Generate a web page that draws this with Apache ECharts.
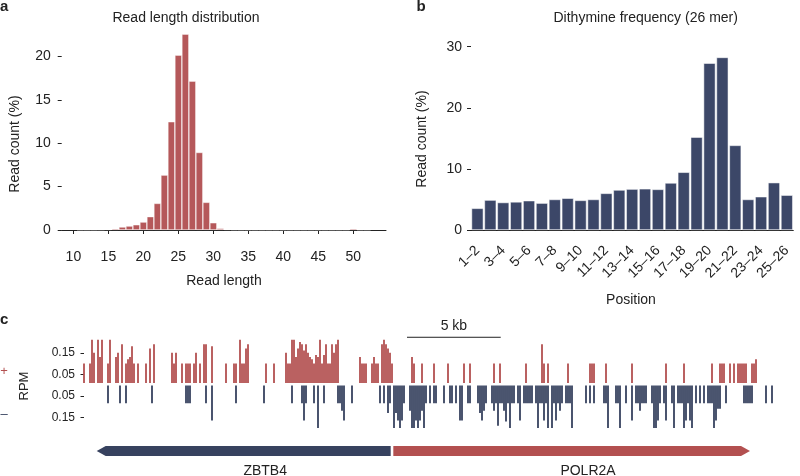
<!DOCTYPE html>
<html><head><meta charset="utf-8">
<script src="https://cdn.jsdelivr.net/npm/echarts@6/dist/echarts.min.js"></script>
<style>html,body{margin:0;padding:0;background:#fff}#c{width:800px;height:476px}</style>
</head><body><div id="c"></div>
<script>
// ---------- Panel a: read length distribution ----------
const readLength = [11,12,13,14,15,16,17,18,19,20,21,22,23,24,25,26,27,28,29,30,31,32,33,34,35,36,37,38,39,40,41,42,43,44,45,46,47,48,49,50,51,52];
const readPct = [0.03,0.03,0.03,0.04,0.08,0.15,0.35,0.46,0.61,0.92,
                 1.54,3.07,6.33,12.48,20.15,22.57,17.16,8.94,3.19,0.84,
                 0.19,0.08,
                 0.04,0.03,0.03,0.03,0.03,0.03,0.03,0.03,0.03,0.03,0.03,0.03,0.03,0.03,0.03,0.03,0.03,
                 0.15,0.03,0.03];
const aXTicks = [10,15,20,25,30,35,40,45,50];
const aYTicks = [0,5,10,15,20];

// ---------- Panel b: dithymine frequency ----------
const dtPositions = ['1–2','2–3','3–4','4–5','5–6','6–7','7–8','8–9','9–10','10–11','11–12','12–13','13–14','14–15','15–16','16–17','17–18','18–19','19–20','20–21','21–22','22–23','23–24','24–25','25–26'];
const dtPct = [3.55,4.9,4.5,4.6,4.8,4.4,5.0,5.2,4.85,5.0,6.0,6.55,6.7,6.75,6.65,7.7,9.45,15.2,27.3,28.25,13.85,5.0,5.45,7.75,5.7];

// ---------- Panel c: strand-specific RPM track (bin index, RPM) ----------
const plusBin = [0,3,4,5,7,8,9,12,13,16,17,19,21,22,23,24,25,27,31,33,35,44,45,46,49,51,52,53,55,56,58,60,61,64,71,75,76,78,79,80,81,82,91,95,
  101,102,103,104,105,106,107,108,109,110,111,112,113,114,115,116,117,118,119,120,121,122,123,124,125,126,127,
  138,139,140,141,144,145,146,147,149,150,151,152,153,154,164,165,169,175,182,190,193,205,208,221,229,230,232,242,
  253,254,255,261,274,291,300,314,318,319,320,323,325,327,328,329,330,331,334,335,336];
const plusRPM = [0.10,0.10,0.21,0.15,0.21,0.13,0.21,0.10,0.21,0.13,0.15,0.19,0.10,0.12,0.13,0.18,0.10,0.10,0.10,0.17,0.19,0.15,0.10,0.15,0.10,0.10,0.10,0.10,0.10,0.15,0.10,0.19,0.19,0.18,0.10,0.10,0.10,0.21,0.10,0.10,0.17,0.19,0.10,0.10,
  0.15,0.10,0.10,0.21,0.21,0.13,0.17,0.20,0.19,0.16,0.19,0.15,0.13,0.12,0.10,0.14,0.13,0.21,0.10,0.14,0.19,0.10,0.10,0.19,0.15,0.19,0.21,
  0.13,0.10,0.10,0.10,0.10,0.13,0.10,0.10,0.19,0.21,0.19,0.17,0.15,0.10,0.13,0.10,0.10,0.10,0.10,0.10,0.10,0.10,0.10,0.10,0.19,0.10,0.10,0.10,
  0.10,0.10,0.10,0.10,0.10,0.10,0.10,0.10,0.10,0.10,0.10,0.10,0.10,0.10,0.10,0.10,0.10,0.10,0.10,0.10,0.12,0.10];
const minusBin = [12,18,21,34,51,52,53,61,64,76,90,104,109,110,111,115,117,120,127,128,129,130,134,148,150,152,153,155,156,157,158,159,160,
  163,164,165,166,167,168,169,170,171,173,175,176,180,183,184,186,188,189,192,193,197,198,199,200,201,204,205,206,207,208,209,210,211,212,213,214,215,
  217,218,220,221,222,223,224,226,227,228,229,230,231,232,234,235,236,237,238,239,241,242,243,244,251,253,255,260,261,262,266,267,268,271,274,
  276,277,278,279,280,281,284,285,286,287,288,290,291,294,295,297,298,299,300,301,302,303,304,306,308,310,312,313,314,315,316,317,318,321,
  330,331,332,333,334,341,344];
const minusRPM = [0.085,0.085,0.085,0.085,0.085,0.085,0.085,0.085,0.165,0.085,0.085,0.085,0.085,0.165,0.085,0.085,0.2,0.085,0.085,0.085,0.12,0.165,0.085,0.085,0.085,0.13,0.085,0.2,0.13,0.165,0.2,0.165,0.085,
  0.12,0.2,0.2,0.165,0.2,0.165,0.12,0.2,0.085,0.085,0.085,0.085,0.085,0.085,0.085,0.085,0.165,0.165,0.085,0.085,0.085,0.13,0.165,0.12,0.085,0.085,0.12,0.085,0.19,0.085,0.085,0.12,0.17,0.085,0.2,0.085,0.085,
  0.085,0.165,0.085,0.085,0.085,0.085,0.085,0.085,0.2,0.085,0.085,0.165,0.085,0.2,0.2,0.085,0.165,0.085,0.12,0.085,0.085,0.085,0.085,0.2,0.085,0.085,0.085,0.085,0.085,0.2,0.085,0.085,0.2,0.085,0.165,
  0.085,0.085,0.12,0.085,0.085,0.085,0.085,0.2,0.2,0.165,0.085,0.085,0.165,0.085,0.2,0.085,0.085,0.085,0.2,0.165,0.085,0.165,0.2,0.085,0.085,0.085,0.085,0.085,0.085,0.2,0.165,0.11,0.11,0.085,
  0.085,0.085,0.085,0.085,0.085,0.085,0.085];
const cYTicks = [-0.15,-0.05,0.05,0.15];
const BIN_KB = 0.1067;
const scaleStartBin = 161.5;
const scaleKb = 5;
const geneNames = ['ZBTB4','POLR2A'];
const geneStart = [6.35,154.65];
const geneEnd = [153.35,333];
const geneStrand = ['-','+'];
const geneLabelBin = [90.6,252];

// ---------- Chart ----------
const FONT = '"Liberation Sans", Arial, Helvetica, sans-serif';
const TXT = '#222';
const RED_A = '#b5585a', BLUE_B = '#3c4768';
const RED_T = '#b35050', BLUE_T = '#37425f';

const chart = echarts.init(document.getElementById('c'));

function trackBar(color, gap) {
  return function (params, api) {
    const b = api.value(0), v = api.value(1);
    const base = api.coord([b, 0]);
    const end = api.coord([b, v]);
    const bw = api.size([1, 0])[0] * 0.9;
    let y, h;
    if (v >= 0) { y = end[1]; h = base[1] - gap - end[1]; }
    else { y = base[1] + gap; h = end[1] - base[1] - gap; }
    return { type: 'rect', shape: { x: base[0] - bw / 2, y: y, width: bw, height: Math.max(h, 0) }, style: { fill: color } };
  };
}

function geneItem(params, api) {
  const i = params.dataIndex;
  const s = api.coord([api.value(0), 0.5]);
  const e = api.coord([api.value(1), 0.5]);
  const hh = api.size([0, 1])[1] / 2;
  const head = 9, mid = s[1];
  const minus = geneStrand[i] === '-';
  const pts = minus
    ? [[s[0], mid], [s[0] + head, mid - hh], [e[0], mid - hh], [e[0], mid + hh], [s[0] + head, mid + hh]]
    : [[s[0], mid - hh], [e[0] - head, mid - hh], [e[0], mid], [e[0] - head, mid + hh], [s[0], mid + hh]];
  const lab = api.coord([api.value(2), 0.5]);
  return { type: 'group', children: [
    { type: 'polygon', shape: { points: pts }, style: { fill: minus ? BLUE_T : RED_T } },
    { type: 'text', x: lab[0], y: mid + 20.5, style: { text: geneNames[i], fill: TXT, font: '14px ' + FONT, align: 'center', verticalAlign: 'middle' } }
  ] };
}

const axisTxt = { color: TXT, fontSize: 14, fontFamily: FONT };
const lineCol = { color: '#222', width: 1 };

function gtext(text, x, y, opts) {
  return Object.assign({ type: 'text', x: x, y: y, silent: true,
    style: Object.assign({ text: text, fill: TXT, font: '14px ' + FONT, align: 'center', verticalAlign: 'middle' }, (opts && opts.style) || {}) },
    (opts && opts.extra) || {});
}

const option = {
  animation: false,
  backgroundColor: '#fff',
  textStyle: { fontFamily: FONT },
  grid: [
    { left: 61.7, top: 30.4, width: 324.3, height: 199.6 },
    { left: 471, top: 46.7, width: 322.3, height: 183.3 },
    { left: 83, top: 331.25, width: 692, height: 107.5 },
    { left: 83, top: 446, width: 692, height: 10 }
  ],
  xAxis: [
    { gridIndex: 0, type: 'value', min: 8.33, max: 54.67, offset: 9.3,
      axisLine: { lineStyle: lineCol }, splitLine: { show: false },
      axisTick: { length: 4, lineStyle: lineCol, customValues: aXTicks },
      axisLabel: Object.assign({ margin: 11, customValues: aXTicks }, axisTxt) },
    { gridIndex: 1, type: 'category', data: dtPositions, offset: 9.3,
      axisLine: { lineStyle: lineCol }, splitLine: { show: false },
      axisTick: { interval: 0, alignWithLabel: true, length: 4, lineStyle: lineCol },
      axisLabel: Object.assign({ interval: 1, rotate: 45, margin: 9 }, axisTxt) },
    { gridIndex: 2, type: 'value', min: -0.5, max: 345.5, show: false },
    { gridIndex: 3, type: 'value', min: -0.5, max: 345.5, show: false }
  ],
  yAxis: [
    { gridIndex: 0, type: 'value', min: 0, max: 23,
      axisLine: { show: false }, splitLine: { show: false },
      axisTick: { show: true, length: 4, lineStyle: lineCol, customValues: aYTicks },
      axisLabel: Object.assign({ margin: 11, customValues: aYTicks }, axisTxt) },
    { gridIndex: 1, type: 'value', min: 0, max: 30, interval: 10,
      axisLine: { show: false }, splitLine: { show: false },
      axisTick: { show: true, length: 4, lineStyle: lineCol },
      axisLabel: Object.assign({ margin: 9 }, axisTxt) },
    { gridIndex: 2, type: 'value', min: -0.25, max: 0.25, offset: 2,
      axisLine: { show: false }, splitLine: { show: false },
      axisTick: { show: true, length: 3.5, lineStyle: lineCol, customValues: cYTicks },
      axisLabel: { margin: 6, customValues: cYTicks, color: TXT, fontSize: 12, fontFamily: FONT,
                   formatter: v => Math.abs(v).toFixed(2) } },
    { gridIndex: 3, type: 'value', min: 0, max: 1, show: false }
  ],
  series: [
    { type: 'bar', xAxisIndex: 0, yAxisIndex: 0, barWidth: 7,
      data: readLength.map((x, i) => [x, readPct[i]]),
      itemStyle: { color: RED_A, borderColor: 'rgba(255,255,255,0.55)', borderWidth: 0.7 } },
    { type: 'bar', xAxisIndex: 1, yAxisIndex: 1, barCategoryGap: '8%',
      data: dtPct,
      itemStyle: { color: BLUE_B, borderColor: 'rgba(255,255,255,0.85)', borderWidth: 0.6 } },
    { type: 'custom', xAxisIndex: 2, yAxisIndex: 2, renderItem: trackBar(RED_T, 2),
      encode: { x: 0, y: 1 }, data: plusBin.map((b, i) => [b, plusRPM[i]]) },
    { type: 'custom', xAxisIndex: 2, yAxisIndex: 2, renderItem: trackBar(BLUE_T, 0.5),
      encode: { x: 0, y: 1 }, data: minusBin.map((b, i) => [b, -minusRPM[i]]) },
    { type: 'custom', xAxisIndex: 2, yAxisIndex: 2, clip: false,
      data: [[scaleStartBin, scaleKb]], encode: { x: 0 },
      renderItem: function (p, api) {
        const a = api.coord([api.value(0), 0.222]);
        const b = api.coord([api.value(0) + api.value(1) / BIN_KB, 0.222]);
        return { type: 'group', children: [
          { type: 'line', shape: { x1: a[0], y1: a[1], x2: b[0], y2: b[1] }, style: { stroke: '#222', lineWidth: 1 } },
          { type: 'text', x: (a[0] + b[0]) / 2, y: a[1] - 11.5, style: { text: api.value(1) + ' kb', fill: TXT, font: '14px ' + FONT, align: 'center', verticalAlign: 'middle' } }
        ] };
      } },
    { type: 'custom', xAxisIndex: 3, yAxisIndex: 3, clip: false, renderItem: geneItem,
      encode: { x: [0, 1] }, data: geneStart.map((s, i) => [s, geneEnd[i], geneLabelBin[i]]) }
  ],
  graphic: [
    gtext('a', 0, 7.3, { style: { font: 'bold 15px ' + FONT, align: 'left' } }),
    gtext('b', 416.5, 7.3, { style: { font: 'bold 15px ' + FONT, align: 'left' } }),
    gtext('c', 0, 319.6, { style: { font: 'bold 15px ' + FONT, align: 'left' } }),
    gtext('Read length distribution', 186, 18),
    gtext('Dithymine frequency (26 mer)', 645.7, 18),
    gtext('Read count (%)', 15, 144, { extra: { rotation: Math.PI / 2 } }),
    gtext('Read count (%)', 421.7, 139, { extra: { rotation: Math.PI / 2 } }),
    gtext('Read length', 224, 281),
    gtext('Position', 631, 300),
    gtext('RPM', 24, 386, { style: { font: '13px ' + FONT }, extra: { rotation: Math.PI / 2 } }),
    gtext('+', 4, 371, { style: { fill: RED_T, font: '13px ' + FONT } }),
    gtext('–', 4, 414.5, { style: { fill: BLUE_T, font: '13px ' + FONT } })
  ]
};
chart.setOption(option);
</script>
</body></html>
